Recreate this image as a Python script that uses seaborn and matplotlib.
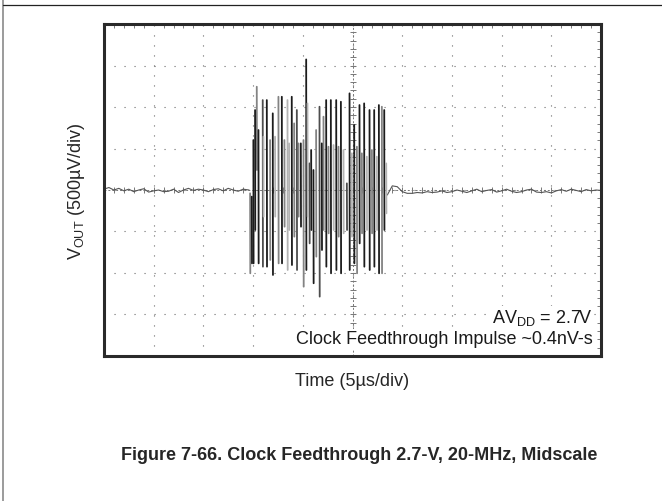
import numpy as np
import pandas as pd
import seaborn as sns
import matplotlib.pyplot as plt
from matplotlib.lines import Line2D
from matplotlib.ticker import MultipleLocator

# ---- data (time in us, voltage in uV) ----
base_left_t = [0.0, 0.5, 1.0, 1.5, 2.0, 2.5, 3.0, 3.5, 4.0, 4.5, 5.0, 5.5, 6.0, 6.5, 7.0,
               7.5, 8.0, 8.5, 9.0, 9.5, 10.0, 10.5, 11.0, 11.5, 12.0, 12.5, 13.0, 13.5, 14.0, 14.6]
base_left_v = [10, 30, 0, 20, -10, 10, -20, 0, 15, -25, -10, 0, -20, -15, 10,
               -30, 0, 20, -5, 10, 0, -20, 5, 15, -10, 20, 0, -15, 10, 0]

base_right_t = [28.5, 29.0, 29.5, 30.0, 30.5, 31.0, 31.5, 32.0, 32.5, 33.0, 33.5, 34.0, 34.5,
                35.0, 35.5, 36.0, 36.5, 37.0, 37.5, 38.0, 38.5, 39.0, 39.5, 40.0, 40.5, 41.0,
                41.5, 42.0, 42.5, 43.0, 43.5, 44.0, 44.5, 45.0, 45.5, 46.0, 46.5, 47.0, 47.5,
                48.0, 48.5, 49.0, 49.5, 50.0]
base_right_v = [-60, 50, 40, -20, -40, -40, -30, -35, -20, -30, -25, -10, -30,
                -20, 0, -15, -30, -10, 10, -20, -5, 5, -25, -10, 10, -15, -30,
                -20, 0, 10, -25, -30, -20, -35, -10, 5, -15, 10, -5, -20,
                5, -10, 0, -5]

spike_t = [14.70, 14.87, 15.03, 15.20, 15.37, 15.54, 15.97, 16.04, 16.38, 16.71,
           16.98, 17.21, 17.55, 17.89, 18.15, 18.46, 18.62, 18.89, 19.13, 19.40,
           19.56, 19.80, 20.07, 20.34, 20.47, 20.67, 20.84, 21.07, 21.34, 21.68,
           21.91, 22.08, 22.35, 22.58, 22.82, 23.09, 23.36, 23.59, 23.83, 24.09,
           24.43, 24.70, 24.93, 25.17, 25.44, 25.70, 25.94, 26.17, 26.44, 26.71,
           26.95, 27.18, 27.45, 27.65, 27.95, 28.19, 28.39]
spike_top = [-40, -80, 602, 964, 1245, 723, 1084, 643, 1084, 602,
             924, 643, 1124, 1124, 602, 1084, 562, 1124, 803, 964,
             562, 562, 602, 1574, 1044, 321, 482, 241, 723, 1004,
             562, 884, 1084, 522, 1084, 542, 1084, 522, 1064, 482,
             80, 1165, 442, 783, 522, 1024, 442, 1044, 402, 964,
             482, 964, 402, 1024, 1004, 964, 321]
spike_bot = [-1004, -884, -884, -482, 241, -884, -924, -321, -924, -843,
             -1024, -321, -884, -884, -442, -964, -482, -904, -562, -964,
             -321, -442, -1165, -964, -321, -643, -482, -1124, -803, -1285,
             -723, -482, -924, -522, -1004, -482, -964, -562, -1004, -522,
             -482, -964, -562, -884, -1004, -643, -522, -924, -482, -964,
             -522, -924, -482, -1004, -1004, -482, -281]
spike_shade = ['m', 'k', 'k', 'k', 'm', 'k', 'd', 'l', 'k', 'm',
               'k', 'l', 'm', 'k', 'm', 'l', 'l', 'k', 'm', 'd',
               'm', 'k', 'm', 'k', 'l', 'd', 'k', 'k', 'm', 'd',
               'k', 'm', 'k', 'm', 'k', 'l', 'k', 'm', 'k', 'l',
               'd', 'k', 'l', 'k', 'm', 'k', 'm', 'k', 'l', 'k',
               'm', 'k', 'l', 'k', 'm', 'k', 'l']

shade_colors = {'k': '#1c1c1c', 'd': '#4d4d4d', 'm': '#838383', 'l': '#b3b3b3'}

# long format table for seaborn: one unit per vertical excursion
rows = []
for i, (t, top, bot, s) in enumerate(zip(spike_t, spike_top, spike_bot, spike_shade)):
    rows.append({'unit': i, 't': t, 'v': top, 'shade': s})
    rows.append({'unit': i, 't': t + 0.02, 'v': bot, 'shade': s})
spikes = pd.DataFrame(rows)
base_left = pd.DataFrame({'t': base_left_t, 'v': base_left_v})
base_right = pd.DataFrame({'t': base_right_t, 'v': base_right_v})

# ---- style ----
sns.set_style('white')
plt.rcParams['font.family'] = ['Liberation Sans', 'DejaVu Sans']
plt.rcParams['mathtext.fontset'] = 'custom'
plt.rcParams['mathtext.rm'] = 'Liberation Sans'
plt.rcParams['mathtext.it'] = 'Liberation Sans:italic'

fig = plt.figure(figsize=(6.62, 5.02), dpi=100)
ax = fig.add_axes([0.157, 0.289, 0.751, 0.661])

ax.set_xlim(0, 50)
ax.set_ylim(-2000, 2000)
ax.xaxis.set_major_locator(MultipleLocator(5))
ax.yaxis.set_major_locator(MultipleLocator(500))
ax.xaxis.set_minor_locator(MultipleLocator(1))
ax.yaxis.set_minor_locator(MultipleLocator(100))
ax.grid(True, which='major', color='#6a6a6a', linewidth=0.8, linestyle=(0, (1, 8)))
ax.tick_params(which='both', direction='in', top=True, right=True,
               labelbottom=False, labelleft=False, color='#666666')
ax.tick_params(which='major', length=0)
ax.tick_params(which='minor', length=3, width=0.6)
for sp in ax.spines.values():
    sp.set_linewidth(2.2)
    sp.set_color('#2a2a2a')

# centre crosshair with fine graduations
ax.axhline(0, color='#777777', linewidth=0.7, linestyle=(0, (2, 2)), zorder=1)
ax.axvline(25, color='#777777', linewidth=0.7, linestyle=(0, (2, 2)), zorder=1)
ax.plot(np.full(41, 25.0), np.arange(-2000, 2001, 100), linestyle='none',
        marker='_', markersize=5, color='#777777', markeredgewidth=0.7, zorder=1)
ax.plot(np.arange(0, 50.1, 1), np.zeros(51), linestyle='none',
        marker='|', markersize=5, color='#777777', markeredgewidth=0.7, zorder=1)

# trace
sns.lineplot(data=base_left, x='t', y='v', ax=ax, color='#555555', linewidth=0.8,
             estimator=None, sort=False)
sns.lineplot(data=base_right, x='t', y='v', ax=ax, color='#555555', linewidth=0.8,
             estimator=None, sort=False)
sns.lineplot(data=spikes, x='t', y='v', units='unit', hue='shade', palette=shade_colors,
             estimator=None, sort=False, linewidth=1.3, legend=False, ax=ax)
ax.set_xlabel('')
ax.set_ylabel('')

fig.text(0.532, 0.241, 'Time (5µs/div)', ha='center', va='center', fontsize=13)
fig.text(0.115, 0.620, r'V$_{\mathrm{OUT}}$ (500µV/div)', ha='center', va='center',
         rotation=90, fontsize=13)

box = dict(facecolor='white', edgecolor='none', pad=1.0)
ax.text(0.983, 0.117, r'AV$_{\mathrm{DD}}$ = 2.7V', transform=ax.transAxes,
        ha='right', va='center', fontsize=13, color='#1a1a1a', bbox=box, zorder=5)
ax.text(0.983, 0.051, 'Clock Feedthrough Impulse ~0.4nV-s', transform=ax.transAxes,
        ha='right', va='center', fontsize=13, color='#1a1a1a', bbox=box, zorder=5)

fig.text(0.542, 0.092, 'Figure 7-66. Clock Feedthrough 2.7-V, 20-MHz, Midscale',
         ha='center', va='center', fontsize=13, fontweight='bold')

# page frame lines
fig.add_artist(Line2D([0.005, 0.005], [0, 1], color='#8a8a8a', linewidth=1.2))
fig.add_artist(Line2D([0.005, 1], [0.989, 0.989], color='#222222', linewidth=0.9))

fig.savefig('out.png', dpi=100)
